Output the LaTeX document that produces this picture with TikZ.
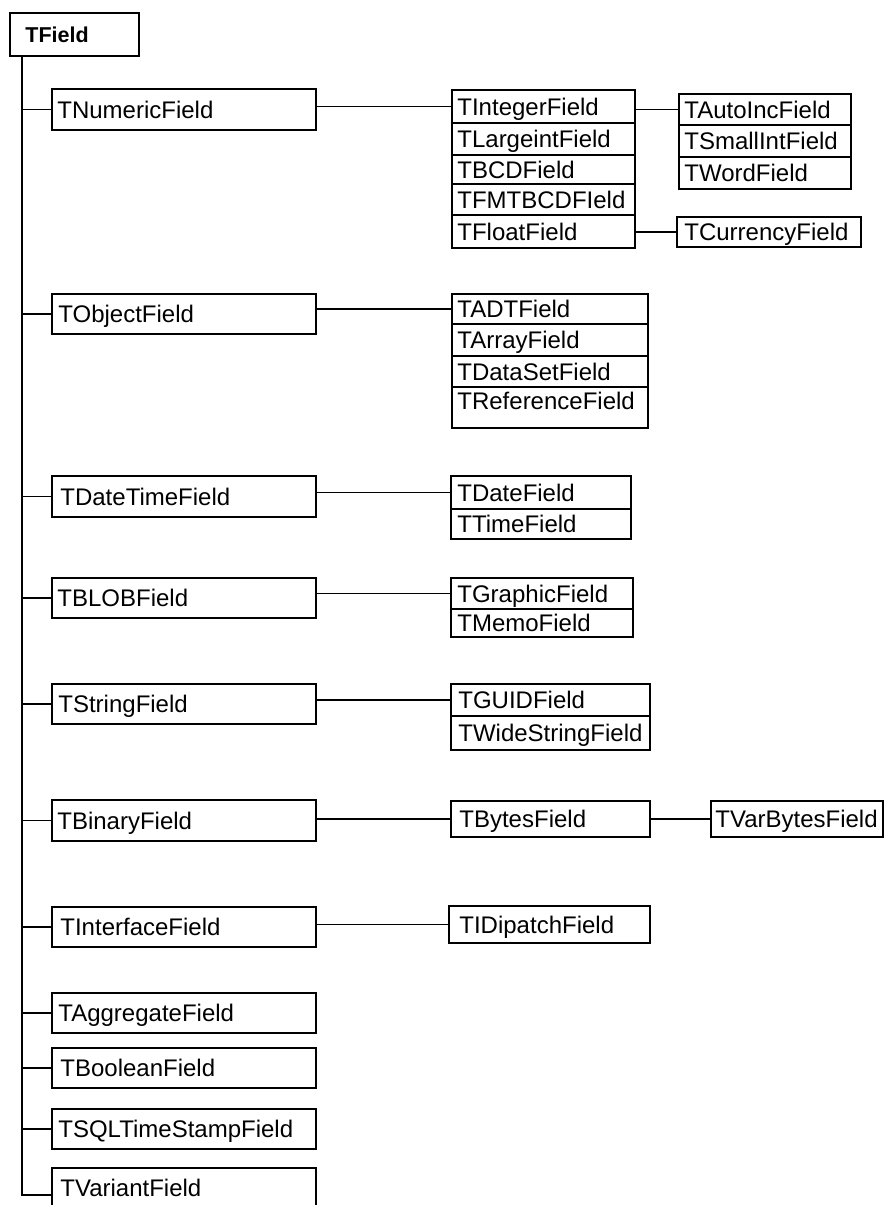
\documentclass[tikz,border=0pt]{standalone}
\usepackage{fontspec}
\setmainfont{Liberation Sans}
\usetikzlibrary{fit}

\tikzset{
  fieldbox/.style={draw=black, line width=1.6pt, inner sep=0pt, rectangle, fill=white},
  ftext/.style={inner sep=0pt, anchor=west, text height=17.2pt, text depth=0pt,
                font=\fontsize{24}{28}\selectfont, text=black},
  roottext/.style={ftext, font=\bfseries\fontsize{21.5}{26}\selectfont, text height=15.4pt},
  link/.style={draw=black, line width=1.6pt},
}

% \FldBox[text style]{name}{x1}{y1}{x2}{y2}{text offset}{label}
\newcommand\FldBox[8][ftext]{%
  \node[fieldbox, fit={(#3,#4) (#5,#6)}] (#2) {};
  \node[#1] (#2-t) at ([xshift=#7pt]#2.west) {#8};
}

\begin{document}
\begin{tikzpicture}[x=1pt, y=-1pt]
\useasboundingbox (0,0) rectangle (884,1205);
\fill[white] (0,0) rectangle (884,1205);
\clip (0,0) rectangle (884,1205);

% root class
\FldBox[roottext]{root}{10}{13}{139}{56}{16}{TField}

% direct descendants
\FldBox{numeric}{52}{89}{316}{130}{6}{TNumericField}
\FldBox{object}{52}{294}{316}{334}{7}{TObjectField}
\FldBox{datetime}{52}{476}{316}{517}{9}{TDateTimeField}
\FldBox{blob}{52}{578}{316}{618}{6}{TBLOBField}
\FldBox{string}{52}{684}{316}{724}{7}{TStringField}
\FldBox{binary}{52}{800}{316}{841}{6}{TBinaryField}
\FldBox{interface}{52}{907}{316}{947}{9}{TInterfaceField}
\FldBox{aggregate}{52}{993}{316}{1033}{7}{TAggregateField}
\FldBox{boolean}{52}{1048}{316}{1088}{9}{TBooleanField}
\FldBox{sqlts}{52}{1109}{316}{1149}{7}{TSQLTimeStampField}
\FldBox{variant}{52}{1168}{316}{1208}{9}{TVariantField}

% numeric family
\FldBox{integer}{452}{90}{635}{123}{6}{TIntegerField}
\FldBox{largeint}{452}{123}{635}{155}{6}{TLargeintField}
\FldBox{bcd}{452}{155}{635}{184}{6}{TBCDField}
\FldBox{fmtbcd}{452}{184}{635}{215}{6}{TFMTBCDFIeld}
\FldBox{float}{452}{215}{635}{248}{6}{TFloatField}

\FldBox{autoinc}{679}{94}{851}{125}{6}{TAutoIncField}
\FldBox{smallint}{679}{125}{851}{157}{6}{TSmallIntField}
\FldBox{word}{679}{157}{851}{189}{6}{TWordField}

\FldBox{currency}{677}{217}{861}{247}{8}{TCurrencyField}

% object family
\FldBox{adt}{452}{294}{648}{324}{6}{TADTField}
\FldBox{array}{452}{324}{648}{356}{6}{TArrayField}
\FldBox{dataset}{452}{356}{648}{387}{6}{TDataSetField}
\FldBox[ftext,yshift=6.5pt]{reference}{452}{387}{648}{428}{6}{TReferenceField}

% date/time family
\FldBox{date}{451}{476}{631}{509}{7}{TDateField}
\FldBox{time}{451}{509}{631}{539}{7}{TTimeField}

% BLOB family
\FldBox{graphic}{451}{578}{633}{609}{7}{TGraphicField}
\FldBox{memo}{451}{609}{633}{637}{7}{TMemoField}

% string family
\FldBox{guid}{451}{684}{650}{716}{8}{TGUIDField}
\FldBox{widestring}{451}{716}{650}{750}{8}{TWideStringField}

% binary family
\FldBox{bytes}{451}{801}{650}{837}{9}{TBytesField}
\FldBox{varbytes}{711}{801}{883}{837}{5}{TVarBytesField}

% interface family
\FldBox{idispatch}{449}{906}{650}{943}{11}{TIDipatchField}

% trunk from the root down to the last descendant
\coordinate (trunk) at ([xshift=13pt]root.south west);
\coordinate (vlink) at ([yshift=-7pt]variant.west);
\draw[link] (trunk) |- (vlink);
\foreach \n in {numeric,object,datetime,blob,string,binary,interface,aggregate,boolean,sqlts}
  \draw[link] (trunk |- \n.west) -- (\n.west);

% second and third level links
\draw[link] (integer.west -| numeric.east) -- (integer.west);
\draw[link] (autoinc.west -| integer.east) -- (autoinc.west);
\draw[link] (currency.west -| float.east) -- (currency.west);
\draw[link] (adt.west -| object.east) -- (adt.west);
\draw[link] (date.west -| datetime.east) -- (date.west);
\draw[link] (graphic.west -| blob.east) -- (graphic.west);
\draw[link] (guid.west -| string.east) -- (guid.west);
\draw[link] (bytes.west -| binary.east) -- (bytes.west);
\draw[link] (varbytes.west -| bytes.east) -- (varbytes.west);
\draw[link] (idispatch.west -| interface.east) -- (idispatch.west);
\end{tikzpicture}
\end{document}
